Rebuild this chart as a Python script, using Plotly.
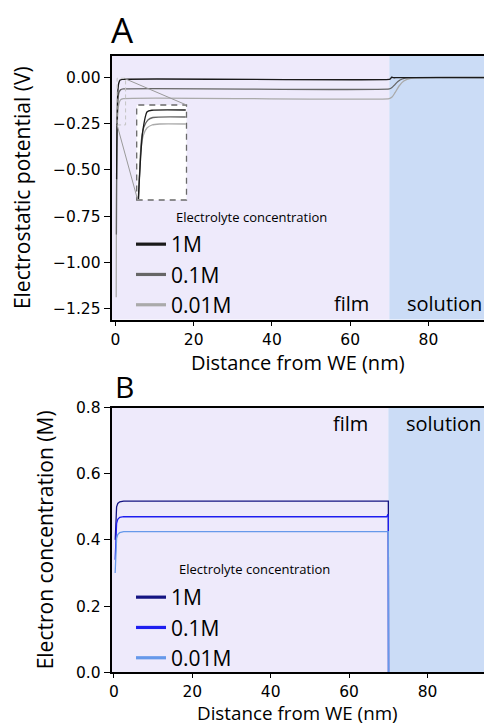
import plotly.graph_objects as go

# ---------------- data ----------------
labels = ["1M", "0.1M", "0.01M"]

# Panel A: electrostatic potential (V) vs distance (nm)
pot_x_1M = [0.3, 0.35, 0.45, 0.6, 0.85, 1.2, 1.8, 70.0, 70.3, 70.6, 71.0, 72.0, 100.0]
pot_y_1M = [-0.55, -0.38, -0.2, -0.08, -0.03, -0.013, -0.009, -0.009, -0.006, 0.003, 0.0, 0.0, 0.0]
pot_x_01M = [0.25, 0.32, 0.45, 0.65, 0.9, 1.3, 2.0, 70.0, 70.6, 71.3, 72.2, 73.3, 75.0, 100.0]
pot_y_01M = [-0.85, -0.5, -0.25, -0.12, -0.08, -0.066, -0.061, -0.061, -0.055, -0.04, -0.02, -0.007, 0.0, 0.0]
pot_x_001M = [0.2, 0.28, 0.4, 0.6, 0.9, 1.3, 2.0, 70.0, 70.7, 71.5, 72.5, 73.7, 75.5, 100.0]
pot_y_001M = [-1.19, -0.65, -0.33, -0.19, -0.14, -0.12, -0.113, -0.113, -0.105, -0.08, -0.045, -0.018, -0.003, 0.0]

# inset (zoom of the first nanometres)
ins_x_1M = [0.064, 0.24, 0.42, 0.61, 1.97]
ins_y_1M = [-0.722, -0.184, -0.024, -0.012, -0.010]
ins_x_01M = [0.072, 0.19, 0.29, 0.45, 0.65, 1.97]
ins_y_01M = [-0.722, -0.25, -0.146, -0.09, -0.07, -0.066]
ins_x_001M = [0.08, 0.17, 0.27, 0.41, 0.61, 0.93, 1.97]
ins_y_001M = [-0.722, -0.33, -0.21, -0.154, -0.13, -0.122, -0.122]

# Panel B: electron concentration (M) vs distance (nm)
ec_x_1M = [0.35, 0.5, 0.7, 1.0, 1.5, 2.5, 70.0, 70.05]
ec_y_1M = [0.40, 0.47, 0.50, 0.51, 0.515, 0.517, 0.517, 0.0]
ec_x_01M = [0.33, 0.5, 0.7, 1.0, 1.5, 2.5, 69.6, 69.9, 70.0, 70.05]
ec_y_01M = [0.34, 0.42, 0.45, 0.462, 0.468, 0.47, 0.47, 0.477, 0.47, 0.0]
ec_x_001M = [0.33, 0.5, 0.7, 1.0, 1.5, 2.5, 70.0, 70.05]
ec_y_001M = [0.30, 0.38, 0.405, 0.416, 0.422, 0.425, 0.425, 0.0]

x_ticks = [0, 20, 40, 60, 80]
pot_ticks = [0.0, -0.25, -0.5, -0.75, -1.0, -1.25]
ec_ticks = [0.0, 0.2, 0.4, 0.6, 0.8]
film_end = 70
solution_end = 100

# ---------------- styles ----------------
W, H = 484, 725
gray_cols = ["#1a1a1a", "#666666", "#aaaaaa"]
blue_cols = ["#141482", "#1e1ef0", "#6699ea"]
film_col = "#EEEAFB"
sol_col = "#CBDCF6"
TF = "Open Sans"
NF = "DejaVu Sans"

xA_range = [-1.0, 94.2]
yA_range = [-1.3106, 0.1176]
xB_range = [-0.6, 94.4]
yB_range = [0.0, 0.8]

xdom = [111.5 / W, 1.0]
yA_dom = [1 - 319.5 / H, 1 - 56 / H]
yB_dom = [1 - 672.3 / H, 1 - 407.5 / H]
ins_xdom = [136.7 / W, 186.5 / W]
ins_ydom = [1 - 200 / H, 1 - 105 / H]
ins_xr = [0.0, 2.0]
ins_yr = [-0.73, 0.03]

fig = go.Figure()

pot_sets = [(pot_x_1M, pot_y_1M), (pot_x_01M, pot_y_01M), (pot_x_001M, pot_y_001M)]
ins_sets = [(ins_x_1M, ins_y_1M), (ins_x_01M, ins_y_01M), (ins_x_001M, ins_y_001M)]
ec_sets = [(ec_x_1M, ec_y_1M), (ec_x_01M, ec_y_01M), (ec_x_001M, ec_y_001M)]

for i in [2, 1, 0]:
    fig.add_trace(go.Scatter(x=pot_sets[i][0], y=pot_sets[i][1], mode="lines",
                             line=dict(color=gray_cols[i], width=1.3, shape="spline", smoothing=0.6),
                             xaxis="x", yaxis="y", showlegend=False, hoverinfo="skip"))
    fig.add_trace(go.Scatter(x=ins_sets[i][0], y=ins_sets[i][1], mode="lines",
                             line=dict(color=gray_cols[i], width=1.3, shape="spline", smoothing=0.6),
                             xaxis="x3", yaxis="y3", showlegend=False, hoverinfo="skip"))
for i in [0, 1, 2]:
    fig.add_trace(go.Scatter(x=ec_sets[i][0], y=ec_sets[i][1], mode="lines",
                             line=dict(color=blue_cols[i], width=1.3),
                             xaxis="x2", yaxis="y2", showlegend=False, hoverinfo="skip"))

# legend-only entries
for i, lab in enumerate(labels):
    fig.add_trace(go.Scatter(x=[None], y=[None], mode="lines", name=lab,
                             line=dict(color=gray_cols[i], width=3.2),
                             legend="legend", legendgroup="a" + lab, xaxis="x", yaxis="y"))
for i, lab in enumerate(labels):
    fig.add_trace(go.Scatter(x=[None], y=[None], mode="lines", name=lab,
                             line=dict(color=blue_cols[i], width=3.2),
                             legend="legend2", legendgroup="b" + lab, xaxis="x2", yaxis="y2"))

def axis_common(tl=6):
    return dict(showline=True, linecolor="black", linewidth=1.6, ticks="outside", ticklen=tl,
                tickwidth=1.3, tickcolor="black", showgrid=False, zeroline=False, automargin=False,
                tickfont=dict(family=NF, size=15.5, color="black"))

fig.update_layout(
    width=W, height=H, margin=dict(l=0, r=0, t=0, b=0, autoexpand=False),
    paper_bgcolor="white", plot_bgcolor="white",
    xaxis=dict(domain=xdom, range=xA_range, anchor="y", tickvals=x_ticks, mirror=True,
               title=dict(text="Distance from WE (nm)", font=dict(family=TF, size=20, color="black"), standoff=6),
               **axis_common(5)),
    yaxis=dict(domain=yA_dom, range=yA_range, anchor="x", tickvals=pot_ticks, tickformat=".2f",
               title=dict(text="Electrostatic potential (V)", font=dict(family=TF, size=21, color="black"), standoff=17),
               **axis_common()),
    xaxis2=dict(domain=xdom, range=xB_range, anchor="y2", tickvals=x_ticks, mirror=True,
                **axis_common(4)),
    yaxis2=dict(domain=yB_dom, range=yB_range, anchor="x2", tickvals=ec_ticks, tickformat=".1f",
                title=dict(text="Electron concentration (M)", font=dict(family=TF, size=21, color="black"), standoff=17),
                **axis_common()),
    xaxis3=dict(domain=ins_xdom, range=ins_xr, anchor="y3", visible=False),
    yaxis3=dict(domain=ins_ydom, range=ins_yr, anchor="x3", visible=False),
    legend=dict(x=131 / W, y=1 - 224 / H, xanchor="left", yanchor="top", bgcolor="rgba(0,0,0,0)",
                font=dict(family=TF, size=21, color="black"), traceorder="grouped", tracegroupgap=0),
    legend2=dict(x=131 / W, y=1 - 577 / H, xanchor="left", yanchor="top", bgcolor="rgba(0,0,0,0)",
                 font=dict(family=TF, size=21, color="black"), traceorder="grouped", tracegroupgap=0),
)

shapes = []
# backgrounds
for xr_, yr_ in [("x", "y domain"), ("x2", "y2 domain")]:
    shapes.append(dict(type="rect", xref=xr_, yref=yr_, x0=-5, x1=film_end, y0=0, y1=1,
                       fillcolor=film_col, line=dict(width=0), layer="below"))
    shapes.append(dict(type="rect", xref=xr_, yref=yr_, x0=film_end, x1=solution_end, y0=0, y1=1,
                       fillcolor=sol_col, line=dict(width=0), layer="below"))

# zoom source box in panel A (data coordinates)
src = dict(x0=0.43, x1=2.6, y0=-0.256, y1=-0.003)
shapes.append(dict(type="rect", xref="x", yref="y", **src,
                   line=dict(color="#c4c4c4", width=1, dash="4px,3px"), layer="above"))
# inset box
shapes.append(dict(type="rect", xref="x3 domain", yref="y3 domain", x0=0, x1=1, y0=0, y1=1,
                   line=dict(color="#6a6a6a", width=1.3, dash="6px,5px"), layer="above"))

def to_paper_x(v):
    return xdom[0] + (v - xA_range[0]) / (xA_range[1] - xA_range[0]) * (xdom[1] - xdom[0])

def to_paper_y(v):
    return yA_dom[0] + (v - yA_range[0]) / (yA_range[1] - yA_range[0]) * (yA_dom[1] - yA_dom[0])

shapes.append(dict(type="line", xref="paper", yref="paper",
                   x0=to_paper_x(src["x1"] - 0.4), y0=to_paper_y(src["y1"]),
                   x1=ins_xdom[1], y1=ins_ydom[1], line=dict(color="#9a9a9a", width=1), layer="above"))
shapes.append(dict(type="line", xref="paper", yref="paper",
                   x0=to_paper_x(src["x0"]), y0=to_paper_y(src["y0"]),
                   x1=ins_xdom[0] + 1 / W, y1=ins_ydom[0], line=dict(color="#9a9a9a", width=1), layer="above"))
fig.update_layout(shapes=shapes)

ann = []
ann.append(dict(text="A", xref="paper", yref="paper", x=109 / W, y=1 - 29 / H, xanchor="left",
                yanchor="middle", showarrow=False, font=dict(family=TF, size=35, color="black")))
ann.append(dict(text="B", xref="paper", yref="paper", x=113 / W, y=1 - 386 / H, xanchor="left",
                yanchor="middle", showarrow=False, font=dict(family=TF, size=30, color="black")))
# bottom panel x-axis title (placed as annotation so it can sit at the page edge)
ann.append(dict(text="Distance from WE (nm)", xref="paper", yref="paper", x=(xdom[0] + xdom[1]) / 2,
                y=1 - 712.5 / H, xanchor="center", yanchor="middle", showarrow=False, borderpad=0,
                font=dict(family=TF, size=18.8, color="black")))
for xr_, yr_, yy in [("x", "y domain", 0.06), ("x2", "y2 domain", 0.94)]:
    ann.append(dict(text="film", xref=xr_, yref=yr_, x=65.3, y=yy, xanchor="right", yanchor="middle",
                    showarrow=False, font=dict(family=TF, size=20, color="black")))
    ann.append(dict(text="solution", xref=xr_, yref=yr_, x=74.0, y=yy, xanchor="left", yanchor="middle",
                    showarrow=False, font=dict(family=TF, size=20, color="black")))
ann.append(dict(text="Electrolyte concentration", xref="paper", yref="paper", x=174 / W, y=1 - 217 / H,
                xanchor="left", yanchor="middle", showarrow=False, font=dict(family=TF, size=13, color="black")))
ann.append(dict(text="Electrolyte concentration", xref="paper", yref="paper", x=177 / W, y=1 - 568.5 / H,
                xanchor="left", yanchor="middle", showarrow=False, font=dict(family=TF, size=13, color="black")))
fig.update_layout(annotations=ann)

fig.write_html("out.html")
